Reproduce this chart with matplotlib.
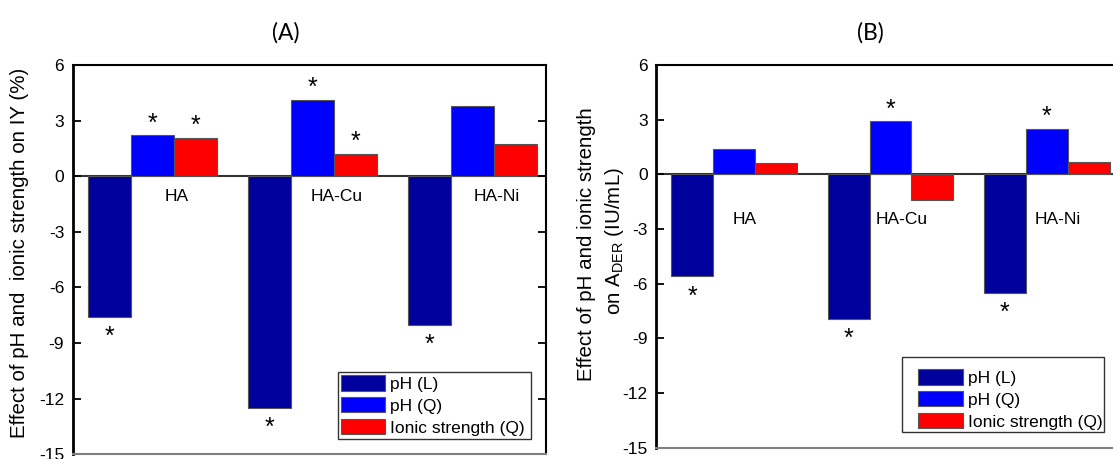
import numpy as np
import matplotlib.pyplot as plt
from matplotlib.patches import Rectangle

plt.rcParams['font.family'] = ['Liberation Sans', 'DejaVu Sans']
plt.rcParams['mathtext.fontset'] = 'custom'
plt.rcParams['mathtext.rm'] = 'Liberation Sans'
plt.rcParams['mathtext.it'] = 'Liberation Sans'
plt.rcParams['axes.unicode_minus'] = False

groups = ['HA', 'HA-Cu', 'HA-Ni']
series = ['pH (L)', 'pH (Q)', 'Ionic strength (Q)']
colors = ['#00009C', '#0000FF', '#FF0000']

# effect on IY (%)
iy_ph_l = [-7.6, -12.5, -8.0]
iy_ph_q = [2.2, 4.1, 3.8]
iy_ionic = [2.05, 1.2, 1.75]
iy_sig = [[True, True, True], [True, True, False], [True, True, False]]

# effect on A_DER (IU/mL)
ader_ph_l = [-5.6, -7.95, -6.5]
ader_ph_q = [1.4, 2.9, 2.5]
ader_ionic = [0.6, -1.4, 0.7]
ader_sig = [[True, True, True], [False, True, True], [False, False, False]]

W, H = 1113, 459
fig = plt.figure(figsize=(W / 100, H / 100), dpi=100)


def px_box(x0, y0, x1, y1):
    return [x0 / W, 1 - y1 / H, (x1 - x0) / W, (y1 - y0) / H]


def panel(ax, data, sig, lab_dx, lab_y, right_ticks):
    x = np.arange(1, len(groups) + 1)
    w = 0.268
    ax.axhline(0, color='#333333', lw=1.5, zorder=1)
    for k, vals in enumerate(data):
        pos = x + (k - 1) * w
        ax.bar(pos, vals, w, color=colors[k], edgecolor='#555555', lw=0.8,
               label=series[k], zorder=2)
        for p, v, s in zip(pos, vals, sig[k]):
            if s:
                off = 12 if v > 0 else -20
                ax.annotate('*', (p, v), xytext=(0, off), textcoords='offset pixels',
                            ha='center', va='center', fontsize=18)
    for xi, g in zip(x, groups):
        ax.text(xi + lab_dx, lab_y, g, ha='center', va='center', fontsize=12.5)
    ax.set_xlim(0.5, 3.46)
    ax.set_ylim(-15, 6)
    ax.set_yticks(np.arange(-15, 7, 3))
    ax.set_xticks([])
    ax.tick_params(axis='y', direction='in', length=6, width=1.3, pad=6,
                   labelsize=12.5, right=right_ticks)
    ax.spines['left'].set_linewidth(2)
    ax.spines['top'].set_linewidth(1.5)
    ax.spines['right'].set_linewidth(1.5)
    ax.spines['bottom'].set_linewidth(1.5)
    ax.spines['bottom'].set_color('#808080')


ax1 = fig.add_axes(px_box(72.5, 65, 546, 454.3))
panel(ax1, [iy_ph_l, iy_ph_q, iy_ionic], iy_sig, 0.15, -1.1, True)

ax2 = fig.add_axes(px_box(656, 65, 1118.7, 447.7))
panel(ax2, [ader_ph_l, ader_ph_q, ader_ionic], ader_sig, 0.07, -2.5, False)

fig.text(285.5 / W, 1 - 33 / H, '(A)', ha='center', va='center', fontsize=16.5, family='Lato')
fig.text(870 / W, 1 - 33 / H, '(B)', ha='center', va='center', fontsize=16.5, family='Lato')

fig.text(20 / W, 1 - 253 / H, 'Effect of pH and  ionic strength on IY (%)',
         rotation=90, ha='center', va='center', fontsize=14.8)
fig.text(587 / W, 1 - 244.5 / H, 'Effect of pH and ionic strength',
         rotation=90, ha='center', va='center', fontsize=14.8)
fig.text(615 / W, 1 - 241.5 / H, r'on A$_{\mathrm{DER}}$ (IU/mL)',
         rotation=90, ha='center', va='center', fontsize=14.8)

# legend boxes
for x0, y0, x1, y1 in [(338, 371.7, 531, 439.3), (901.7, 357.3, 1104.3, 432.3)]:
    fig.patches.append(Rectangle((x0 / W, 1 - y1 / H), (x1 - x0) / W, (y1 - y0) / H,
                                 transform=fig.transFigure, fill=False,
                                 edgecolor='#333333', lw=1))
ax1.legend(loc='upper left', bbox_to_anchor=(341 / W, 1 - 375 / H),
           bbox_transform=fig.transFigure, frameon=False, fontsize=12.5,
           borderpad=0, borderaxespad=0, handlelength=2.55, handleheight=1.0,
           handletextpad=0.3, labelspacing=0.3)
ax2.legend(loc='upper left', bbox_to_anchor=(918.3 / W, 1 - 369 / H),
           bbox_transform=fig.transFigure, frameon=False, fontsize=12.5,
           borderpad=0, borderaxespad=0, handlelength=2.55, handleheight=1.0,
           handletextpad=0.3, labelspacing=0.3)

fig.savefig('out.png', dpi=100)
